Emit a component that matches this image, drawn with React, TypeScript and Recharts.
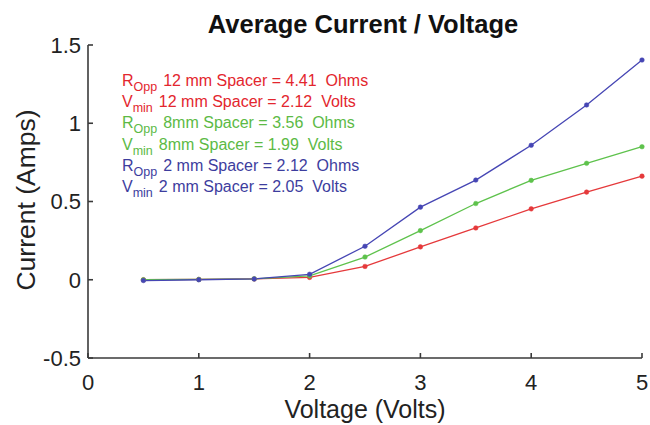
import React from 'react';
import { LineChart, Line, XAxis, YAxis, Customized } from 'recharts';

const voltage = [0.5, 1, 1.5, 2, 2.5, 3, 3.5, 4, 4.5, 5];
const spacer12mm = [0, 0.002, 0.005, 0.015, 0.085, 0.21, 0.331, 0.453, 0.56, 0.662];
const spacer8mm = [0, 0.002, 0.006, 0.025, 0.145, 0.314, 0.487, 0.635, 0.744, 0.85];
const spacer2mm = [-0.005, 0, 0.005, 0.035, 0.214, 0.464, 0.637, 0.859, 1.117, 1.404];

const xTicks = [0, 1, 2, 3, 4, 5];
const yTicks = [-0.5, 0, 0.5, 1, 1.5];

const annotations = [
  { sym: 'R', sub: 'Opp', text: '12 mm Spacer = 4.41  Ohms', color: '#e3262e' },
  { sym: 'V', sub: 'min', text: '12 mm Spacer = 2.12  Volts', color: '#e3262e' },
  { sym: 'R', sub: 'Opp', text: '8mm Spacer = 3.56  Ohms', color: '#5cba45' },
  { sym: 'V', sub: 'min', text: '8mm Spacer = 1.99  Volts', color: '#5cba45' },
  { sym: 'R', sub: 'Opp', text: '2 mm Spacer = 2.12  Ohms', color: '#3d3d9e' },
  { sym: 'V', sub: 'min', text: '2 mm Spacer = 2.05  Volts', color: '#3d3d9e' },
];

const data = voltage.map((v, i) => ({
  v,
  s12: spacer12mm[i],
  s8: spacer8mm[i],
  s2: spacer2mm[i],
}));

const FONT = 'Liberation Sans, Arial, sans-serif';
const AXIS = '#3a3a3a';

const Overlay = () => (
  <g fontFamily={FONT}>
    <text x={363} y={33} textAnchor="middle" fontSize={25.5} fontWeight="bold" fill="#111">
      Average Current / Voltage
    </text>
    <text
      x={0}
      y={0}
      transform="translate(35,200) rotate(-90)"
      textAnchor="middle"
      fontSize={26.5}
      fill="#222"
    >
      Current (Amps)
    </text>
    <text x={365} y={418} textAnchor="middle" fontSize={25} fill="#222">
      Voltage (Volts)
    </text>
    {annotations.map((a, i) => (
      <text
        key={i}
        x={122}
        y={86 + i * 21.2}
        fontSize={16}
        fill={a.color}
        style={{ whiteSpace: 'pre' }}
      >
        <tspan>{a.sym}</tspan>
        <tspan fontSize={12.5} dy={5}>{a.sub}</tspan>
        <tspan dy={-5} dx={6}>{a.text}</tspan>
      </text>
    ))}
  </g>
);

export default function App() {
  return (
    <div style={{ position: 'absolute', left: 0, top: 0, background: '#fff' }}>
      <LineChart
        width={650}
        height={425}
        data={data}
        margin={{ top: 45, right: 8, bottom: 0, left: 0 }}
      >
        <XAxis
          type="number"
          dataKey="v"
          domain={[0, 5]}
          ticks={xTicks}
          interval={0}
          height={67}
          stroke={AXIS}
          strokeWidth={1.6}
          tickSize={-5}
          tickMargin={21}
          tick={{ fontSize: 22, fill: '#222', fontFamily: FONT }}
        />
        <YAxis
          type="number"
          domain={[-0.5, 1.5]}
          ticks={yTicks}
          interval={0}
          width={88}
          stroke={AXIS}
          strokeWidth={1.6}
          tickSize={-5}
          tickMargin={12}
          tick={{ fontSize: 22, fill: '#222', fontFamily: FONT }}
        />
        <Line
          dataKey="s12"
          stroke="#e5393b"
          strokeWidth={1.3}
          dot={{ r: 2.3, fill: '#e5393b', stroke: '#e5393b', strokeWidth: 0.5 }}
          isAnimationActive={false}
        />
        <Line
          dataKey="s8"
          stroke="#5ec24c"
          strokeWidth={1.3}
          dot={{ r: 2.3, fill: '#5ec24c', stroke: '#5ec24c', strokeWidth: 0.5 }}
          isAnimationActive={false}
        />
        <Line
          dataKey="s2"
          stroke="#4646b4"
          strokeWidth={1.3}
          dot={{ r: 2.3, fill: '#4646b4', stroke: '#4646b4', strokeWidth: 0.5 }}
          isAnimationActive={false}
        />
        <Customized component={Overlay} />
      </LineChart>
    </div>
  );
}
